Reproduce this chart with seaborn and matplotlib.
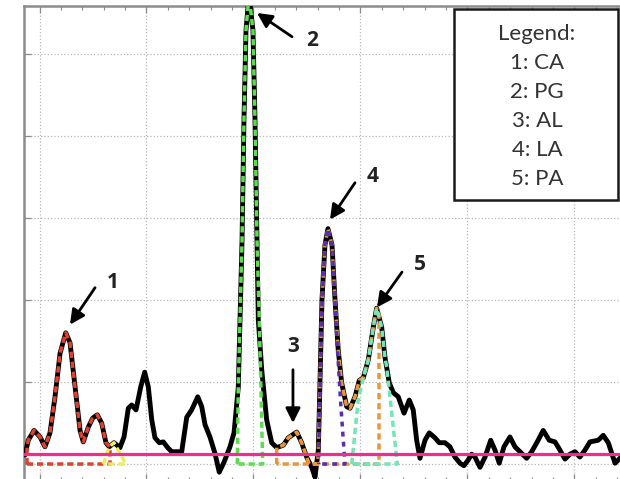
import numpy as np
import pandas as pd
import seaborn as sns
import matplotlib.pyplot as plt
from matplotlib.patches import Rectangle
from matplotlib.ticker import MultipleLocator, NullFormatter

# measured trace (black)
sig_x = [-1.36, -1.05, -0.51, 0.05, 0.51, 0.98, 1.45, 1.92, 2.45, 2.85, 3.32, 3.79,
         4.09, 4.56, 4.97, 5.40, 5.81, 6.21, 6.52, 6.96, 7.52, 7.90, 8.30, 8.62,
         9.02, 9.46, 9.83, 10.17, 10.49, 10.79, 11.20, 11.57, 11.98, 12.36, 13.29,
         13.76, 14.22, 14.79, 15.16, 15.47, 15.93, 16.40, 16.80, 17.24, 17.80,
         18.18, 18.58, 18.74, 18.93, 19.11, 19.30, 19.58, 19.95, 20.14, 20.33,
         20.45, 20.77, 21.23, 21.70, 22.17, 22.79, 23.25, 24.04, 24.50, 24.97,
         25.44, 25.75, 26.06, 26.40, 26.68, 26.96, 27.34, 27.62, 27.92, 28.24,
         28.71, 29.02, 29.49, 29.89, 30.26, 30.73, 31.20, 31.51, 31.98, 32.29,
         32.69, 33.07, 33.53, 34.07, 34.56, 34.93, 35.25, 35.56, 36.03, 36.43,
         36.96, 37.36, 37.90, 38.36, 38.83, 39.30, 39.67, 40.07, 40.39, 40.70,
         41.17, 41.64, 42.17, 42.57, 42.97, 43.41, 43.97, 44.44, 44.91, 45.53,
         46.00, 46.52, 47.08, 47.64, 48.18, 48.64, 49.11, 49.58, 50.05, 50.51,
         50.98, 51.45, 52.22, 52.69, 53.16, 53.79, 54.25, 54.72]
sig_y = [0.11, 0.29, 0.41, 0.33, 0.21, 0.38, 0.82, 1.35, 1.60, 1.48, 0.94, 0.41,
         0.27, 0.45, 0.56, 0.60, 0.50, 0.26, 0.21, 0.26, 0.20, 0.33, 0.68, 0.72,
         0.66, 0.94, 1.12, 0.94, 0.54, 0.32, 0.26, 0.27, 0.20, 0.15, 0.15,
         0.57, 0.66, 0.82, 0.70, 0.48, 0.33, 0.13, -0.10, 0.02, 0.21,
         0.38, 0.94, 1.76, 2.73, 4.20, 5.29, 5.72, 5.29, 4.20, 2.73,
         1.76, 1.15, 0.54, 0.26, 0.20, 0.23, 0.32, 0.39, 0.26, 0.085,
         -0.04, -0.16, 0.17, 2.00, 2.67, 2.87, 2.67, 2.00, 1.39, 0.99,
         0.70, 0.68, 0.82, 1.02, 1.05, 1.27, 1.67, 1.90, 1.67, 1.30,
         0.99, 0.87, 0.82, 0.62, 0.78, 0.66, 0.29, 0.07, 0.29, 0.38,
         0.32, 0.26, 0.26, 0.21, 0.085, 0.01, -0.02, 0.05, 0.12, 0.085,
         -0.04, 0.085, 0.29, 0.17, 0.01, 0.21, 0.33, 0.21, 0.15, 0.07,
         0.15, 0.27, 0.41, 0.29, 0.27, 0.17, 0.06, 0.12, 0.15, 0.085,
         0.17, 0.27, 0.29, 0.35, 0.26, 0.01, 0.07, 0.15]

# fitted components (outlines, closed on the zero line)
ca_x = [-1.17, -1.17, -1.05, -0.51, 0.05, 0.51, 0.98, 1.45, 1.92, 2.45, 2.85, 3.32, 3.79,
        4.09, 4.56, 4.97, 5.40, 5.81, 6.21, 6.59, 6.59, -1.17]
ca_y = [0, 0.22, 0.29, 0.41, 0.33, 0.21, 0.38, 0.82, 1.35, 1.60, 1.48, 0.94, 0.41,
        0.27, 0.45, 0.56, 0.60, 0.50, 0.26, 0.21, 0, 0]
yel_x = [5.96, 6.52, 6.96, 7.52, 8.08, 5.96]
yel_y = [0, 0.21, 0.26, 0.13, 0, 0]
pg_x = [18.49, 18.58, 18.74, 18.93, 19.11, 19.30, 19.58, 19.95, 20.14, 20.33, 20.54, 20.70, 20.86, 18.49]
pg_y = [0, 0.94, 1.76, 2.73, 4.20, 5.29, 5.72, 5.29, 4.20, 2.73, 1.76, 0.90, 0, 0]
al_x = [22.17, 22.17, 22.79, 23.25, 24.04, 24.50, 24.97, 25.20, 26.00, 26.06, 26.40, 26.68,
        26.96, 27.34, 27.62, 27.92, 28.24, 28.71, 29.02, 29.49, 29.89, 30.26, 30.73, 31.20,
        31.51, 31.73, 31.73, 22.17]
al_y = [0, 0.20, 0.23, 0.32, 0.39, 0.26, 0.085, 0, 0, 0.17, 2.00, 2.67,
        2.87, 2.67, 2.00, 1.39, 0.99, 0.70, 0.68, 0.82, 1.02, 1.05, 1.27, 1.67,
        1.90, 1.82, 0, 0]
la_x = [26.10, 26.10, 26.40, 26.68, 26.96, 27.34, 27.62, 27.85, 28.13, 28.55, 26.10]
la_y = [0, 0.17, 2.00, 2.67, 2.87, 2.67, 2.00, 1.39, 0.78, 0, 0]
pa_x = [29.18, 29.79, 30.26, 30.73, 31.20, 31.51, 31.98, 32.29, 32.45, 33.44, 29.18]
pa_y = [0, 0.78, 1.05, 1.27, 1.67, 1.90, 1.67, 1.30, 1.18, 0, 0]

baseline_y = 0.122

# peak labels: text position, arrow tail, arrow head
peak_labels = ["1", "2", "3", "4", "5"]
label_pos = [(6.87, 2.21), (25.47, 5.17), (23.69, 1.43), (31.17, 3.50), (35.56, 2.43)]
arrow_tail = [(5.19, 2.15), (23.60, 5.21), (23.69, 1.15), (29.49, 3.43), (33.88, 2.34)]
arrow_head = [(2.85, 1.70), (20.33, 5.50), (23.69, 0.50), (27.15, 2.98), (31.54, 1.91)]

legend_lines = ["Legend:", "1: CA", "2: PG", "3: AL", "4: LA", "5: PA"]

sns.set_style("white")
plt.rcParams["font.family"] = ["Lato", "DejaVu Sans"]

fig = plt.figure(figsize=(6.2, 4.79), dpi=100)
ax = fig.add_axes([24 / 620, -2 / 479, 606 / 620, 475 / 479])

sns.lineplot(x=sig_x, y=sig_y, sort=False, estimator=None, color="black", lw=3.5,
             ax=ax, zorder=3).lines[-1].set_solid_joinstyle("round")

comps = [
    (ca_x, ca_y, "#df4030", (0, (1.8, 1.1))),
    (yel_x, yel_y, "#eeec5a", (0, (1.8, 1.1))),
    (pg_x, pg_y, "#5ddc4f", (0, (1.8, 1.1))),
    (al_x, al_y, "#e8963e", (0, (1.8, 1.1))),
    (la_x, la_y, "#5a30a8", (1.0, (1.4, 1.5))),
    (pa_x, pa_y, "#72e6b6", (0, (1.8, 1.1))),
]
for cx, cy, col, ls in comps:
    sns.lineplot(x=cx, y=cy, sort=False, estimator=None, color=col, lw=2.5,
                 linestyle=ls, ax=ax, zorder=4)

ax.axhline(baseline_y, color="#e8308c", lw=2.3, zorder=5)

for lab, lp, tl, hd in zip(peak_labels, label_pos, arrow_tail, arrow_head):
    ax.annotate("", xy=hd, xytext=tl,
                arrowprops=dict(arrowstyle="-|>", color="black", lw=2.0, mutation_scale=22,
                                shrinkA=0, shrinkB=0), zorder=6)
    ax.text(lp[0], lp[1], lab, fontsize=15, fontweight="bold", ha="center", va="center",
            color="#222222", family=["Open Sans", "Noto Sans", "DejaVu Sans"], zorder=6)

ax.set_xlim(-1.449, 55.19)
ax.set_ylim(-0.207, 5.585)
ax.xaxis.set_major_locator(MultipleLocator(10))
ax.xaxis.set_minor_locator(MultipleLocator(2))
ax.yaxis.set_major_locator(MultipleLocator(1))
ax.xaxis.set_major_formatter(NullFormatter())
ax.yaxis.set_major_formatter(NullFormatter())
ax.set_xlabel("")
ax.set_ylabel("")
ax.grid(True, which="major", linestyle=":", color="#b8b8b8", lw=0.9)
ax.tick_params(which="both", direction="in", top=True, bottom=True, left=True, right=False,
               color="#8a8a8a")
ax.tick_params(which="major", length=5, width=0.9)
ax.tick_params(which="minor", length=3, width=0.8)
for side in ["left", "top"]:
    ax.spines[side].set_color("#8c8c8c")
    ax.spines[side].set_linewidth(1.8)
ax.spines["right"].set_visible(False)
ax.spines["bottom"].set_color("#8c8c8c")

# legend box
fig.add_artist(Rectangle((454 / 620, 1 - 200 / 479), 164 / 620, 191 / 479,
                         transform=fig.transFigure, facecolor="white", edgecolor="#1a1a1a",
                         lw=1.8, zorder=10))
for i, line in enumerate(legend_lines):
    fig.text(537 / 620, 1 - (34 + 29 * i) / 479, line, fontsize=16, color="#333333",
             ha="center", va="center", zorder=11)

fig.savefig("out.png", dpi=100)
